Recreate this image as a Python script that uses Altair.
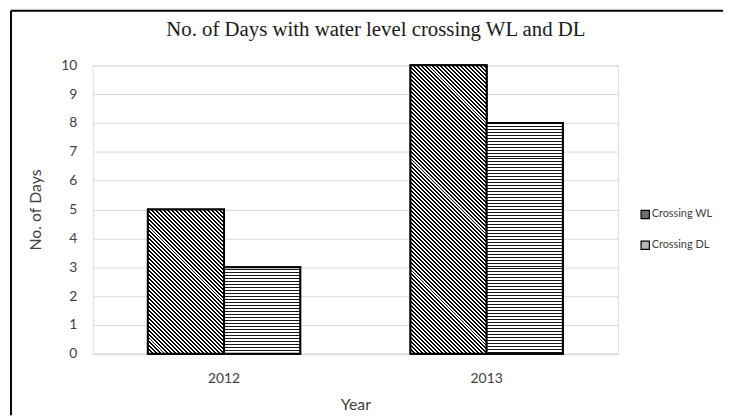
import math
import altair as alt
import pandas as pd

# ---- data ----
years = ["2012", "2013"]
series = ["Crossing WL", "Crossing DL"]
wl_days = [5, 10]
dl_days = [3, 8]

rows = []
for i, yr in enumerate(years):
    rows.append({"Year": yr, "Series": series[0], "Days": wl_days[i]})
    rows.append({"Year": yr, "Series": series[1], "Days": dl_days[i]})
df = pd.DataFrame(rows)

# ---- layout / style ----
W, H = 530, 291
PLOT_TOP_PAGE = 64  # where the plot area ends up on the page (used for stripe phase)
Y_MAX = 10
PX_PER_DAY = H / Y_MAX
STEP = W / len(years)
PAD_INNER = 0.42
BAR_W = STEP * (1 - PAD_INNER) / len(series)
FONT = "Lato"
TXT = "#404040"


def _r(v):
    return round(min(max(v, 0.0), 1.0), 6)


def stripe_stops(total, period, dark, color, start=0.0, dark_first=True):
    """Stops for stripes of fixed pixel period over a gradient of length `total` px."""
    stops = []
    pos = start - period if start > 0 else start
    c1, c2 = (color, "white") if dark_first else ("white", color)
    while pos < total - 1e-9:
        a = pos / total
        b = (pos + period * (dark if dark_first else 1 - dark)) / total
        c = (pos + period) / total
        if c > 0:
            stops += [
                {"offset": _r(a), "color": c1},
                {"offset": _r(b), "color": c1},
                {"offset": _r(b), "color": c2},
                {"offset": _r(c), "color": c2},
            ]
        pos += period
    return stops


def hstripes(v, period=3.0, dark=1.0 / 3.0, color="#1a1a1a"):
    h = v * PX_PER_DAY
    top_page = PLOT_TOP_PAGE + (Y_MAX - v) * PX_PER_DAY
    phi = (0.5 - top_page) % 1.0
    delta = (phi + 0.5) % 1.0
    return {"gradient": "linear",
            "stops": stripe_stops(h, period, dark, color, start=delta, dark_first=False),
            "x1": 0, "y1": 0, "x2": 0, "y2": 1}


def dstripes(v, w=BAR_W, hperiod=4.0, dark=0.5, color="#000000"):
    # 45 degree "\" stripes inside a w x h box (gradient in bbox units)
    h = v * PX_PER_DAY
    t = (w + h) / (w * w + h * h)
    x2 = w * t
    y2 = 1 - h * t
    span = (w + h) / math.sqrt(2)
    period = hperiod / math.sqrt(2)
    return {"gradient": "linear", "stops": stripe_stops(span, period, dark, color),
            "x1": 0, "y1": 1, "x2": round(x2, 6), "y2": round(y2, 6)}


base = alt.Chart(df).encode(
    x=alt.X(
        "Year:N",
        sort=years,
        scale=alt.Scale(paddingInner=PAD_INNER, paddingOuter=PAD_INNER / 2),
        axis=alt.Axis(
            labelAngle=0, ticks=False, domain=True, domainColor="#d9d9d9", domainWidth=1,
            labelFont=FONT, labelFontSize=14, labelColor=TXT, labelPadding=18,
            titleFont=FONT, titleFontSize=16, titleFontWeight="normal", titleColor=TXT,
            titlePadding=11,
        ),
        title="Year",
    ),
    xOffset=alt.XOffset("Series:N", sort=series, scale=alt.Scale(domain=series, paddingInner=0, paddingOuter=0)),
    y=alt.Y(
        "Days:Q",
        scale=alt.Scale(domain=[0, Y_MAX], nice=False),
        axis=alt.Axis(
            values=list(range(0, Y_MAX + 1)), ticks=False, domain=False, grid=True,
            gridColor="#d9d9d9", gridWidth=1,
            labelFont=FONT, labelFontSize=14, labelColor=TXT, labelPadding=16,
            titleFont=FONT, titleFontSize=16, titleFontWeight="normal", titleColor=TXT,
            titlePadding=17,
        ),
        title="No. of Days",
    ),
)

legend_layer = base.mark_bar(stroke="black", strokeWidth=2).encode(
    color=alt.Color(
        "Series:N",
        sort=series,
        scale=alt.Scale(domain=series, range=["#6e6e6e", "#b8b8b8"]),
        legend=alt.Legend(
            title=None, orient="none", legendX=552, legendY=145,
            symbolType="square", symbolSize=70, symbolStrokeColor="black", symbolStrokeWidth=1.2,
            labelFont=FONT, labelFontSize=11, labelColor=TXT, labelOffset=1,
            rowPadding=16,
        ),
    )
)

pattern_layers = []
for i, yr in enumerate(years):
    for s, vals in zip(series, [wl_days, dl_days]):
        grad = dstripes(vals[i]) if s == series[0] else hstripes(vals[i])
        pattern_layers.append(
            base.transform_filter((alt.datum.Year == yr) & (alt.datum.Series == s))
            .mark_bar(fill=grad, stroke="black", strokeWidth=2)
        )

frame_src = pd.DataFrame({"k": [0]})
frame_top = alt.Chart(frame_src).mark_rule(color="black", strokeWidth=2).encode(
    x=alt.value(-82.5), x2=alt.value(636), y=alt.value(-55)
)
frame_left = alt.Chart(frame_src).mark_rule(color="black", strokeWidth=2).encode(
    x=alt.value(-82.5), y=alt.value(-55), y2=alt.value(H + 62)
)

chart = alt.layer(legend_layer, *pattern_layers, frame_top, frame_left).properties(
    width=W,
    height=H,
    padding={"left": 1.5, "top": 0, "right": 0, "bottom": 0},
    title=alt.Title(
        "No. of Days with water level crossing WL and DL",
        font="Liberation Serif", fontSize=21, fontWeight="normal", color="#1a1a1a",
        anchor="middle", frame="bounds", offset=-30, dx=9,
    ),
).configure_view(stroke=None).configure(background="white")

chart.save("out.html", embed_options={"renderer": "svg", "actions": False})
